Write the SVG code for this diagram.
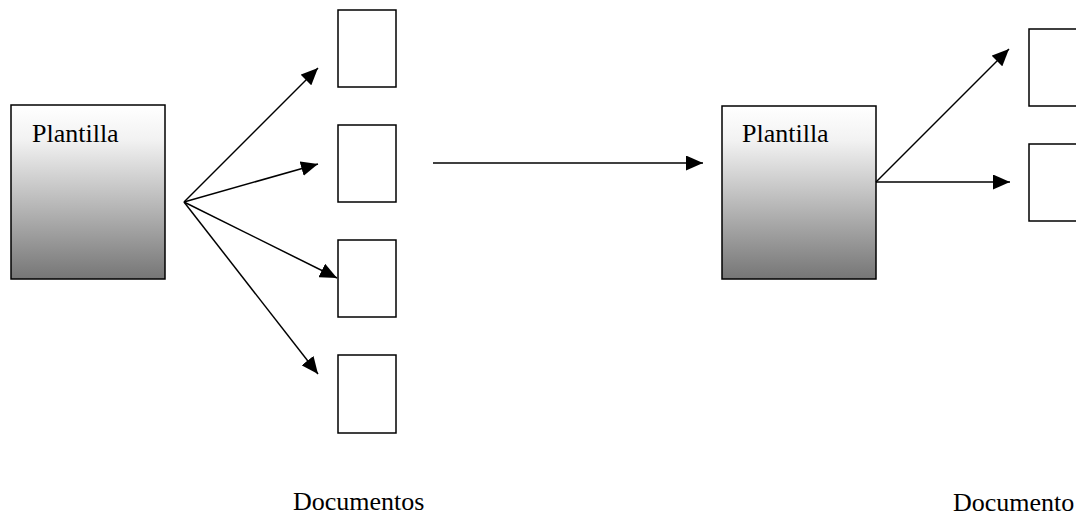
<svg xmlns="http://www.w3.org/2000/svg" width="1076" height="515" viewBox="0 0 1076 515">
<style>
.tpl{stroke:#000;stroke-width:1.5}
.doc{fill:#fff;stroke:#000;stroke-width:1.5}
.lbl{font-family:"Liberation Serif","Times New Roman",serif;font-size:26px;fill:#000}
.con{stroke:#000;stroke-width:1.5;fill:none;marker-end:url(#ah)}
</style>
<defs>
<linearGradient id="g" x1="0" y1="0" x2="0" y2="1">
<stop offset="0" stop-color="#ffffff"/>
<stop offset="0.2" stop-color="#f2f2f2"/>
<stop offset="1" stop-color="#767676"/>
</linearGradient>
<marker id="ah" viewBox="0 0 17 15" refX="17" refY="7.5" markerWidth="17" markerHeight="15" markerUnits="userSpaceOnUse" orient="auto">
<path d="M0,0 L17,7.5 L0,15 z" fill="#000"/>
</marker>
</defs>
<rect width="1076" height="515" fill="#fff"/>
<g id="plantilla1">
<rect class="tpl" x="11" y="105" width="154" height="174" fill="url(#g)"/>
<text class="lbl" x="32" y="142">Plantilla</text>
</g>
<g id="doc1"><rect class="doc" x="338" y="10" width="58" height="77"/></g>
<g id="doc2"><rect class="doc" x="338" y="125" width="58" height="77"/></g>
<g id="doc3"><rect class="doc" x="338" y="240" width="58" height="77"/></g>
<g id="doc4"><rect class="doc" x="338" y="355" width="58" height="78"/></g>
<g id="label-documentos"><text class="lbl" x="293" y="510">Documentos</text></g>
<g id="plantilla2">
<rect class="tpl" x="722" y="106" width="154" height="173" fill="url(#g)"/>
<text class="lbl" x="742" y="142">Plantilla</text>
</g>
<g id="doc5"><rect class="doc" x="1029" y="29" width="60" height="77"/></g>
<g id="doc6"><rect class="doc" x="1029" y="144" width="60" height="77"/></g>
<g id="label-documento"><text class="lbl" x="953" y="511">Documento</text></g>
<g id="connectors">
<line class="con" x1="184" y1="202" x2="318" y2="68"/>
<line class="con" x1="184" y1="202" x2="318" y2="164"/>
<line class="con" x1="184" y1="202" x2="337" y2="278"/>
<line class="con" x1="184" y1="202" x2="318" y2="374"/>
<line class="con" x1="433" y1="163" x2="703" y2="163"/>
<line class="con" x1="876" y1="182" x2="1009" y2="49"/>
<line class="con" x1="876" y1="182" x2="1010" y2="182"/>
</g>
</svg>
